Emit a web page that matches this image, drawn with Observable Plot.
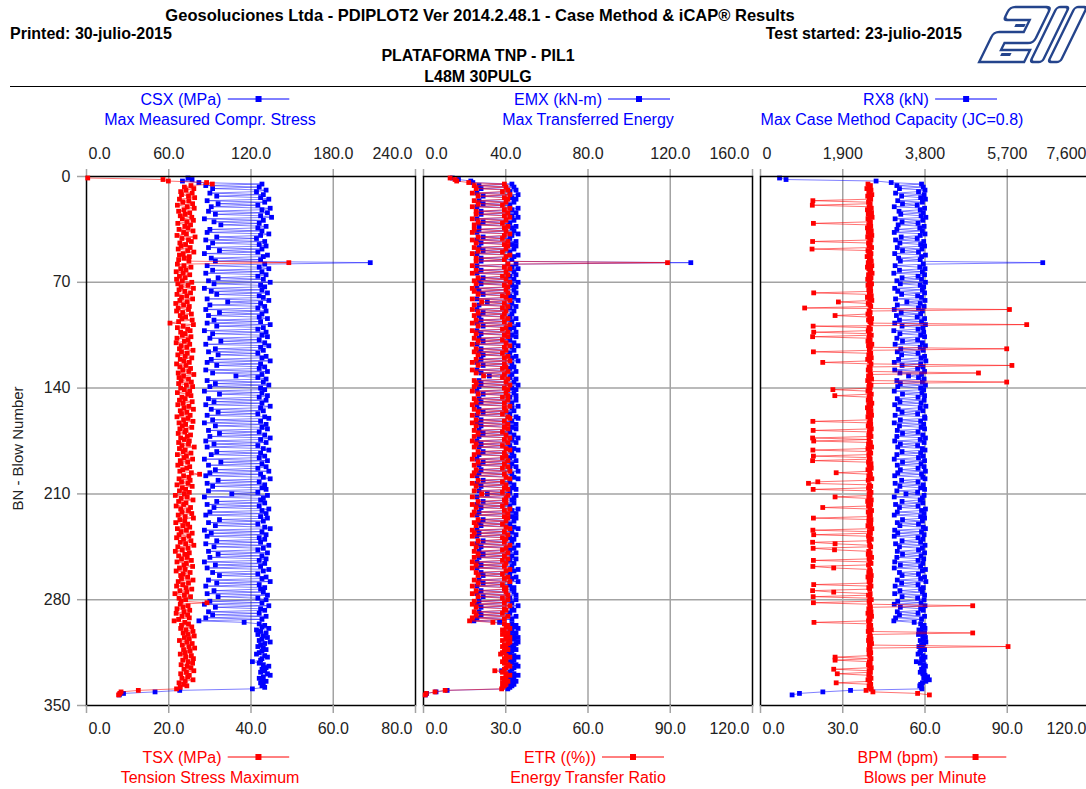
<!DOCTYPE html>
<html><head><meta charset="utf-8">
<script src="https://cdn.jsdelivr.net/npm/d3@7"></script>
<script src="https://cdn.jsdelivr.net/npm/@observablehq/plot@0.6"></script>
<style>
html,body{margin:0;padding:0;background:#fff;overflow:hidden}
#root{position:relative;width:1086px;height:789px;overflow:hidden;font-family:"Liberation Sans",Arial,sans-serif}
.t{position:absolute;white-space:nowrap;line-height:1}
.panel{position:absolute;width:425px;height:610px}
.panel svg{max-width:none !important;width:425px;height:610px}
</style></head>
<body><div id="root"></div>
<script>
// ---------------- data (blow number = index + 1) ----------------
const blowCount = 343;
const csx = [74,77,70,82,
128,87,126,92,131,124,90,129,95,127,
133,88,130,96,125,91,134,128,89,132,
94,127,135,86,129,93,126,98,131,125,
90,128,88,133,127,95,124,87,130,92,
126,131,89,128,97,125,86,132,129,91,
127,94,207,130,88,126,133,92,128,87,
131,125,96,129,89,134,93,127,130,86,
128,91,132,95,126,129,88,133,103,127,
90,130,125,87,131,97,128,89,126,132,
93,127,88,134,95,129,125,86,131,92,
128,132,90,126,98,130,87,133,127,94,
129,89,125,96,131,128,91,134,88,127,
95,130,126,87,132,92,128,109,125,131,
88,129,94,133,90,127,130,86,128,97,
132,126,89,131,93,128,87,134,127,91,
129,96,125,88,130,133,92,127,86,131,
94,128,132,89,126,97,130,90,134,127,
87,131,93,125,88,129,133,95,127,91,
130,126,86,132,98,128,89,131,125,94,
133,90,127,87,129,134,96,126,88,130,
92,128,131,89,125,106,132,86,129,127,
95,130,88,126,93,133,128,90,131,87,
127,132,97,129,89,125,94,130,134,86,
128,91,131,88,126,130,95,127,87,133,
93,129,125,89,132,96,128,90,131,126,
86,130,94,127,88,133,129,92,125,97,
131,128,89,134,95,126,87,130,127,93,
129,88,132,96,125,131,90,128,86,133,
94,127,130,89,126,92,131,87,128,82,
115,
126,130,128,133,124,127,131,125,129,132,
128,126,134,130,127,125,129,131,128,126,
124,130,132,128,127,121,126,129,133,131,
128,130,127,132,134,129,126,128,131,127,
129,128,130,
121,68,50,27,24];

const tsx = [0.3,18.6,19.9,29.2,
30.6,25.4,23.8,26.1,24.2,22.9,25.7,23.1,24.8,26.3,
22.6,24.9,23.4,25.8,22.1,24.5,26.2,23.7,22.4,25.1,
24.0,22.8,25.6,23.3,26.0,24.4,22.2,25.3,23.9,24.7,
22.5,25.9,23.6,24.3,22.0,26.4,23.2,24.8,25.5,22.7,
24.1,23.0,25.2,22.3,24.6,26.1,23.5,22.6,25.0,23.8,
22.4,24.9,49.2,22.1,23.7,25.4,22.9,24.2,21.8,23.5,
25.1,22.6,24.0,21.9,23.3,25.6,22.2,24.7,23.0,26.0,
22.5,23.9,25.3,22.0,24.4,23.1,25.8,22.7,24.5,21.7,
23.6,25.0,22.3,24.8,21.9,23.4,25.5,22.8,24.1,23.2,
25.7,22.4,20.3,26.0,23.5,22.1,24.6,25.2,22.9,24.0,
23.3,25.4,22.0,24.7,23.8,21.8,25.1,23.0,24.4,22.6,
25.9,23.1,24.5,22.2,24.0,25.6,22.8,23.7,25.0,21.9,
24.2,22.7,25.3,23.4,24.9,22.3,26.1,23.6,22.5,24.8,
23.0,25.5,22.4,24.3,25.8,22.9,23.8,25.1,22.1,24.6,
25.4,23.2,24.0,22.6,25.7,23.5,22.2,24.9,23.7,26.0,
22.8,24.4,23.1,25.2,22.0,24.7,23.6,25.9,22.5,24.1,
23.3,25.6,22.7,24.2,23.9,22.3,25.3,24.5,22.9,23.8,
25.0,22.4,24.8,23.2,26.2,22.6,24.0,23.5,25.4,22.1,
24.3,23.7,25.8,22.8,24.6,23.0,22.2,25.1,24.4,23.4,
22.7,25.5,27.5,23.6,24.9,22.5,25.2,23.1,24.7,22.0,
25.7,23.3,24.1,22.6,25.0,23.8,21.6,24.5,23.0,25.9,
22.4,24.2,23.6,21.8,25.3,22.9,24.8,23.2,25.6,22.3,
24.0,26.0,22.7,23.9,21.7,24.6,23.4,25.1,22.1,24.3,
23.0,25.7,22.5,24.9,21.9,23.6,25.4,22.8,24.1,26.1,
22.2,24.7,23.3,21.6,25.0,23.9,22.4,24.5,23.1,25.5,
22.0,24.3,23.7,25.8,22.6,24.0,21.8,25.2,23.5,22.9,
24.6,23.1,25.9,22.3,24.8,23.4,21.9,24.2,25.6,22.7,
24.4,21.5,23.8,25.3,22.5,24.1,23.0,29.3,22.8,24.7,
23.5,22.0,25.1,23.7,21.8,24.6,23.2,25.0,22.4,21.3,
23.9,
24.8,23.1,25.6,22.9,24.2,25.9,23.5,24.7,26.2,23.8,
25.0,22.6,24.4,25.7,23.3,24.9,26.3,23.6,25.2,24.0,
22.8,25.5,24.1,26.0,23.4,24.7,25.8,23.0,24.5,25.4,
23.7,26.1,24.3,22.9,25.0,24.6,23.2,25.9,24.0,22.5,
23.6,24.4,22.8,
21.9,12.6,8.4,8.1,7.8];

const emx = [14,17,23,24,
43,27,44,28,45,42,26,46,29,43,
45,27,44,29,42,26,46,43,28,45,
28,43,46,26,44,29,42,27,45,43,
27,44,26,46,43,29,42,26,45,28,
43,45,27,44,29,42,26,46,44,28,
43,28,130,45,26,43,46,28,44,26,
45,42,29,44,27,46,28,43,45,26,
44,27,45,29,42,44,26,46,31,43,
27,45,42,26,44,29,43,27,42,45,
28,43,26,46,29,44,42,26,45,28,
43,45,27,42,29,44,26,46,43,28,
44,27,42,29,45,43,28,46,26,43,
29,44,42,26,45,28,43,32,42,45,
27,44,28,46,27,43,45,26,44,29,
45,42,27,45,28,43,26,46,43,27,
44,29,42,26,45,46,28,43,26,45,
28,43,45,27,42,29,44,27,46,43,
26,45,28,42,27,44,46,29,43,27,
44,42,26,45,29,43,27,45,42,28,
46,27,43,26,44,46,29,42,26,44,
28,43,45,27,42,31,45,26,44,43,
29,44,26,42,28,46,43,27,45,26,
43,45,29,44,27,42,28,44,46,26,
43,27,45,26,42,44,29,43,26,46,
28,44,42,27,45,29,43,27,45,42,
26,44,28,43,26,46,44,28,42,29,
45,43,27,46,29,42,26,44,43,28,
44,26,45,29,42,45,27,43,26,46,
28,43,44,27,42,28,45,26,43,24.5,
37,
43,45,44,46,42,43,45,42,44,46,
44,42,46,45,43,42,44,45,43,42,
41,44,46,43,44,42,43,45,46,44,
43,38,42,44,46,44,42,43,45,42,
44,43,42,
41,11.5,6.1,1.5,0.9];

const etr = [9.7,11.5,12.1,16.5,
29.5,18.5,30.1,19.2,30.8,28.8,17.8,31.5,19.9,29.5,
30.8,18.5,30.1,19.9,28.8,17.8,31.5,29.5,19.2,30.8,
19.2,29.5,31.5,17.8,30.1,19.9,28.8,18.5,30.8,29.5,
18.5,30.1,17.8,31.5,29.5,19.9,28.8,17.8,30.8,19.2,
29.5,30.8,18.5,30.1,19.9,28.8,17.8,31.5,30.1,19.2,
29.5,19.2,89.0,30.8,17.8,29.5,31.5,19.2,30.1,17.8,
30.8,28.8,19.9,30.1,18.5,31.5,19.2,29.5,30.8,17.8,
30.1,18.5,30.8,19.9,28.8,30.1,17.8,31.5,21.2,29.5,
18.5,30.8,28.8,17.8,30.1,19.9,29.5,18.5,28.8,30.8,
19.2,29.5,17.8,31.5,19.9,30.1,28.8,17.8,30.8,19.2,
29.5,30.8,18.5,28.8,19.9,30.1,17.8,31.5,29.5,19.2,
30.1,18.5,28.8,19.9,30.8,29.5,19.2,31.5,17.8,29.5,
19.9,30.1,28.8,17.8,30.8,19.2,29.5,21.9,28.8,30.8,
18.5,30.1,19.2,31.5,18.5,29.5,30.8,17.8,30.1,19.9,
30.8,28.8,18.5,30.8,19.2,29.5,17.8,31.5,29.5,18.5,
30.1,19.9,28.8,17.8,30.8,31.5,19.2,29.5,17.8,30.8,
19.2,29.5,30.8,18.5,28.8,19.9,30.1,18.5,31.5,29.5,
17.8,30.8,19.2,28.8,18.5,30.1,31.5,19.9,29.5,18.5,
30.1,28.8,17.8,30.8,19.9,29.5,18.5,30.8,28.8,19.2,
31.5,18.5,29.5,17.8,30.1,31.5,19.9,28.8,17.8,30.1,
19.2,29.5,30.8,18.5,28.8,21.2,30.8,17.8,30.1,29.5,
19.9,30.1,17.8,28.8,19.2,31.5,29.5,18.5,30.8,17.8,
29.5,30.8,19.9,30.1,18.5,28.8,19.2,30.1,31.5,17.8,
29.5,18.5,30.8,17.8,28.8,30.1,19.9,29.5,17.8,31.5,
19.2,30.1,28.8,18.5,30.8,19.9,29.5,18.5,30.8,28.8,
17.8,30.1,19.2,29.5,17.8,31.5,30.1,19.2,28.8,19.9,
30.8,29.5,18.5,31.5,19.9,28.8,17.8,30.1,29.5,19.2,
30.1,17.8,30.8,19.9,28.8,30.8,18.5,29.5,17.8,31.5,
19.2,29.5,30.1,18.5,28.8,19.2,30.8,17.8,29.5,16.8,
25.3,
29.5,30.8,30.1,31.5,28.8,29.5,30.8,28.8,30.1,31.5,
30.1,28.8,31.5,30.8,29.5,28.8,30.1,30.8,29.5,28.8,
28.1,30.1,31.5,29.5,30.1,28.8,29.5,30.8,31.5,30.1,
29.5,26.0,28.8,30.1,31.5,30.1,28.8,29.5,30.8,28.8,
30.1,29.5,28.8,
28.5,7.9,4.2,1.0,0.6];

const rx8 = [440,590,2670,3020,
3720,3150,3760,3210,3800,3650,3120,3780,3260,3700,
3810,3170,3740,3280,3620,3090,3790,3690,3200,3760,
3240,3710,3820,3110,3750,3270,3640,3180,3780,3680,
3150,3740,3090,3800,3690,3250,3620,3120,3770,3220,
3700,3790,3160,3730,3280,3650,3100,3810,3720,3190,
3690,3230,6520,3760,3110,3680,3800,3210,3740,3080,
3790,3640,3270,3720,3150,3810,3230,3690,3770,3100,
3740,3170,3790,3260,3630,3720,3120,3800,3380,3690,
3160,3780,3650,3090,3740,3250,3700,3140,3620,3790,
3210,3720,3100,3810,3270,3750,3640,3080,3770,3220,
3700,3790,3150,3630,3280,3740,3110,3810,3690,3240,
3760,3160,3640,3260,3790,3710,3190,3820,3090,3700,
3270,3750,3630,3100,3790,3220,3720,3420,3650,3780,
3150,3740,3230,3810,3170,3700,3770,3090,3730,3280,
3790,3640,3160,3780,3220,3710,3100,3820,3690,3180,
3750,3270,3630,3110,3790,3800,3230,3700,3090,3770,
3210,3710,3790,3160,3640,3280,3750,3150,3810,3690,
3100,3780,3230,3630,3170,3740,3800,3270,3700,3150,
3760,3650,3090,3790,3280,3710,3160,3780,3640,3230,
3810,3170,3720,3100,3750,3800,3260,3640,3110,3760,
3220,3700,3790,3150,3630,3360,3780,3090,3740,3690,
3270,3750,3120,3640,3210,3810,3720,3160,3780,3090,
3700,3790,3280,3740,3160,3650,3220,3760,3810,3100,
3720,3170,3780,3090,3640,3750,3270,3700,3120,3800,
3210,3740,3650,3160,3790,3280,3710,3150,3770,3640,
3100,3750,3230,3700,3090,3810,3740,3210,3650,3270,
3790,3700,3160,3820,3260,3640,3110,3760,3700,3220,
3740,3100,3790,3270,3630,3780,3170,3710,3090,3800,
3230,3700,3760,3160,3640,3210,3790,3120,3720,3080,
3550,
3700,3780,3740,3800,3660,3710,3790,3650,3750,3810,
3760,3690,3820,3770,3720,3660,3740,3790,3700,3680,
3640,3750,3800,3720,3760,3600,3690,3780,3810,3760,
3720,3780,3690,3750,3800,3860,3770,3900,3820,3740,
3700,3680,3720,
3730,2080,1440,900,730];

const bpm = [null,null,null,null,
39.2,40.1,39.6,38.8,40.3,39.5,39.9,40.6,39.1,39.7,
40.2,19.1,39.4,40.0,18.9,39.6,40.4,39.0,39.8,40.5,
39.3,39.9,40.7,39.2,39.6,40.1,19.3,39.5,40.2,39.0,
39.7,40.4,39.3,39.9,40.6,39.1,39.8,40.3,19.0,39.4,
40.0,39.6,40.5,18.8,39.2,39.9,40.3,39.5,38.9,40.1,
39.7,40.4,39.3,39.8,40.6,39.0,39.5,40.2,39.9,40.7,
39.4,39.8,40.3,39.1,40.0,39.6,40.5,39.2,39.9,40.1,
39.5,40.2,19.4,39.7,40.4,39.0,39.8,40.6,28.4,39.3,
39.9,40.2,16.1,90.8,39.6,40.0,39.2,27.2,39.8,40.5,
39.4,39.9,40.3,97.1,19.2,39.6,40.1,39.3,19.4,39.7,
40.4,19.0,39.5,40.0,39.2,39.8,40.6,39.4,40.1,89.8,
39.7,19.3,40.2,39.5,39.9,40.4,39.1,39.8,22.7,40.3,
91.7,39.6,40.0,39.3,39.9,79.5,40.2,39.4,39.8,40.5,
39.1,89.8,39.7,40.3,39.5,40.0,26.4,39.2,39.8,40.4,
27.1,39.6,40.1,39.3,39.9,40.6,39.5,40.2,39.0,39.7,
40.3,39.4,39.8,40.5,39.2,39.9,40.1,19.1,39.6,40.2,
39.3,39.8,40.4,19.2,39.7,40.0,39.5,40.3,19.0,39.6,
19.4,40.1,39.4,39.9,40.5,39.2,19.1,39.8,40.2,39.5,
19.3,39.7,40.0,19.0,39.4,40.3,39.6,39.9,40.4,39.2,
39.8,27.6,40.1,39.5,39.9,40.6,39.3,20.9,17.5,39.7,
40.2,39.4,19.2,39.8,40.3,39.6,40.0,27.2,39.5,40.4,
39.1,39.7,40.2,39.4,22.7,39.9,40.5,39.3,39.8,40.1,
39.6,19.3,40.3,39.5,39.9,40.2,39.2,39.8,40.6,19.1,
39.7,40.1,19.4,39.4,39.9,40.4,39.6,19.0,27.2,39.8,
40.2,19.2,27.0,39.5,40.0,39.3,39.8,40.5,39.6,19.3,
39.9,40.3,39.4,19.1,26.7,39.8,40.1,39.5,39.9,40.4,
39.2,39.7,40.2,39.6,39.9,19.4,40.3,39.5,39.8,19.0,
26.7,40.0,39.4,19.2,39.9,40.4,39.6,19.3,39.8,77.4,
40.1,39.5,39.9,40.3,39.2,39.8,40.5,39.6,40.0,39.4,
19.5,39.7,40.2,39.5,39.9,40.4,39.3,77.4,39.8,40.1,
39.6,40.3,39.4,39.9,40.5,39.7,90.3,40.0,39.5,39.8,
40.2,39.6,39.9,27.2,40.3,27.2,39.7,40.0,39.4,39.8,
40.4,26.7,39.6,40.1,28.0,39.5,39.9,40.3,39.2,39.8,
27.6,40.2,39.6,39.9,40.4,38.5,41.0,57.3,61.6];

// axis ticks
const yTicks = [0, 70, 140, 210, 280, 350];
const csxTicks = [0, 60, 120, 180, 240];
const tsxTicks = [0, 20, 40, 60, 80];
const emxTicks = [0, 40, 80, 120, 160];
const etrTicks = [0, 30, 60, 90, 120];
const rx8Ticks = [0, 1900, 3800, 5700, 7600];
const bpmTicks = [0, 30, 60, 90, 120];

// ---------------- layout ----------------
const root = document.getElementById("root");
const BLUE = "#0000ff", RED = "#ff0000", GRID = "#a3a3a3", TXT = "#222";

const series = {csx, tsx, emx, etr, rx8, bpm};
const bad = Object.entries(series).filter(([k, v]) => v.length !== blowCount).map(([k, v]) => k + ":" + v.length);

const rows = d3.range(blowCount).map(i => ({
  bn: i + 1, csx: csx[i], tsx: tsx[i], emx: emx[i], etr: etr[i], rx8: rx8[i], bpm: bpm[i]
}));

function text(str, x, y, {anchor = "middle", size = 16, weight = "normal", color = "#000", rotate = 0} = {}) {
  const d = document.createElement("div");
  d.className = "t";
  d.innerHTML = str;
  d.style.left = x + "px";
  d.style.top = (y - size / 2) + "px";
  d.style.fontSize = size + "px";
  d.style.fontWeight = weight;
  d.style.color = color;
  const tx = anchor === "middle" ? "-50%" : anchor === "end" ? "-100%" : "0";
  d.style.transform = `translateX(${tx})` + (rotate ? ` rotate(${rotate}deg)` : "");
  d.style.transformOrigin = "50% 50%";
  root.appendChild(d);
  return d;
}

function sym(color) {
  return `<svg width="62" height="10" style="vertical-align:middle;margin-left:6px;margin-top:-3px"><line x1="0" y1="5" x2="62" y2="5" stroke="${color}" stroke-width="1"/><rect x="28" y="2" width="6" height="6" fill="${color}"/></svg>`;
}

// header
text("Geosoluciones Ltda - PDIPLOT2 Ver 2014.2.48.1 - Case Method &amp; iCAP® Results", 480, 15, {size: 16.5, weight: "bold"});
text("Printed: 30-julio-2015", 10, 34, {anchor: "start", size: 16, weight: "bold"});
text("Test started: 23-julio-2015", 962, 34, {anchor: "end", size: 16, weight: "bold"});
text("PLATAFORMA TNP - PIL1", 478, 56, {size: 16, weight: "bold"});
text("L48M 30PULG", 478, 77, {size: 16, weight: "bold"});

const rule = document.createElement("div");
rule.style.cssText = "position:absolute;left:10px;top:86px;width:1076px;height:0;border-top:1.5px solid #000";
root.appendChild(rule);

// logo
const logo = document.createElementNS("http://www.w3.org/2000/svg", "svg");
logo.setAttribute("width", 120); logo.setAttribute("height", 70);
logo.style.cssText = "position:absolute;left:970px;top:0px";
logo.innerHTML = `<g transform="translate(36,7) skewX(-26)" fill="none" stroke="#24448c" stroke-width="2.6">
<path d="M0,55 V30 Q0,25 5,25 H30 V13 H8 Q4,13 4,9 V5 Q4,0 9,0 H40 Q45,0 45,5 V31 Q45,36 40,36 H16 V43 H45 V55 Z"/>
<rect x="51" y="0" width="12" height="55" rx="3"/>
<rect x="69" y="0" width="12" height="55" rx="3"/>
</g>
<g transform="translate(36,7) skewX(-26)" fill="#24448c"><rect x="18" y="17" width="10" height="3"/><rect x="18" y="46" width="10" height="3"/></g>`;
root.appendChild(logo);

// y axis title
text("BN - Blow Number", 17, 448, {size: 15, rotate: -90, color: "#222"});

// panels
const FW = 329;                 // frame width
const ML = 86, MR = 10, MT = 46, MB = 35, TOP = 130, H = 610;
const panels = [
  {left: 86, top: "csx", bottom: "tsx", tT: csxTicks, bT: tsxTicks, tF: d3.format(".1f"), bF: d3.format(".1f"), yAxis: true},
  {left: 423, top: "emx", bottom: "etr", tT: emxTicks, bT: etrTicks, tF: d3.format(".1f"), bF: d3.format(".1f"), yAxis: false},
  {left: 760, top: "rx8", bottom: "bpm", tT: rx8Ticks, bT: bpmTicks, tF: d3.format(",.0f"), bF: d3.format(".1f"), yAxis: false}
];

const style = {fontFamily: '"Liberation Sans", Arial, sans-serif', fontSize: "16px", background: "transparent", overflow: "visible", maxWidth: "none"};

function addSvg(svg, left) {
  const d = document.createElement("div");
  d.className = "panel";
  d.style.left = (left - ML) + "px";
  d.style.top = TOP + "px";
  d.appendChild(svg);
  root.appendChild(d);
}

function labelAxes(T, F, anchor, pad) {
  const base = {anchor, tickSize: 0, tickPadding: pad, tickFormat: F, fill: TXT, fontSize: 16, label: null};
  return [
    Plot.axisX({...base, ticks: T.slice(1, -1)}),
    Plot.axisX({...base, ticks: [T[0]], textAnchor: "start", dx: 2}),
    Plot.axisX({...base, ticks: [T[T.length - 1]], textAnchor: "end", dx: -3})
  ];
}

for (const p of panels) {
  const common = {
    width: ML + FW + MR, height: H,
    marginLeft: ML, marginRight: MR, marginTop: MT, marginBottom: MB,
    style
  };
  const blueSvg = Plot.plot({
    ...common,
    x: {domain: [p.tT[0], p.tT[p.tT.length - 1]]},
    y: {domain: [0, 350], reverse: true, ...(p.yAxis ? {} : {axis: null})},
    marks: [
      Plot.gridX(p.tT.slice(1, -1), {stroke: GRID, strokeWidth: 1.5, strokeOpacity: 1}),
      Plot.gridY(yTicks.slice(1, -1), {stroke: GRID, strokeWidth: 1.5, strokeOpacity: 1}),
      Plot.axisX({anchor: "top", ticks: p.tT, tickSize: 8, tickFormat: () => "", stroke: GRID, strokeWidth: 1.5, label: null}),
      ...labelAxes(p.tT, p.tF, "top", 18),
      p.yAxis ? Plot.axisY({ticks: yTicks, tickSize: 9, tickPadding: 7, stroke: GRID, strokeWidth: 1.5, fill: TXT, fontSize: 16, label: null}) : null,
      Plot.line(rows, {x: p.top, y: "bn", stroke: BLUE, strokeWidth: 1, strokeOpacity: 0.5}),
      Plot.dot(rows, {x: p.top, y: "bn", symbol: "square", r: 2.7, fill: BLUE, stroke: null}),
      Plot.frame({stroke: "#000", strokeWidth: 1.5})
    ]
  });
  addSvg(blueSvg, p.left);

  const redSvg = Plot.plot({
    ...common,
    x: {domain: [p.bT[0], p.bT[p.bT.length - 1]]},
    y: {domain: [0, 350], reverse: true, axis: null},
    marks: [
      Plot.axisX({anchor: "bottom", ticks: p.bT, tickSize: 8, tickFormat: () => "", stroke: GRID, strokeWidth: 1.5, label: null}),
      ...labelAxes(p.bT, p.bF, "bottom", 17),
      Plot.line(rows, {x: p.bottom, y: "bn", stroke: RED, strokeWidth: 1, strokeOpacity: 0.55}),
      Plot.dot(rows, {x: p.bottom, y: "bn", symbol: "square", r: 2.7, fill: RED, stroke: null})
    ]
  });
  addSvg(redSvg, p.left);
}

// legends
text("CSX (MPa)" + sym(BLUE), 215, 100, {color: BLUE});
text("Max Measured Compr. Stress", 210, 120, {color: BLUE});
text("EMX (kN-m)" + sym(BLUE), 592, 100, {color: BLUE});
text("Max Transferred Energy", 588, 120, {color: BLUE});
text("RX8 (kN)" + sym(BLUE), 930, 100, {color: BLUE});
text("Max Case Method Capacity (JC=0.8)", 892, 120, {color: BLUE});

text("TSX (MPa)" + sym(RED), 216, 758, {color: RED});
text("Tension Stress Maximum", 210, 778, {color: RED});
text("ETR ((%))" + sym(RED), 594, 758, {color: RED});
text("Energy Transfer Ratio", 588, 778, {color: RED});
text("BPM (bpm)" + sym(RED), 932, 758, {color: RED});
text("Blows per Minute", 925, 778, {color: RED});

if (bad.length) text("LENGTH MISMATCH " + bad.join(" "), 500, 400, {size: 20, color: "#f0f"});
</script>
</body></html>
